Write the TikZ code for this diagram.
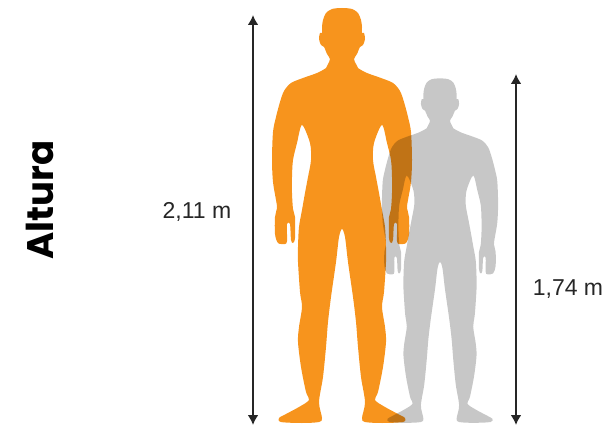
\documentclass[tikz,border=0pt]{standalone}
\usepackage{fontspec}
\setmainfont{Liberation Sans}
\newfontfamily\headfont{Poppins}
\usepackage{xcolor}
\usetikzlibrary{arrows.meta}

\definecolor{bodyorange}{RGB}{247,148,29}

% outline of a standing man, feet centre at the origin, 414 units tall
\newcommand{\silhouette}{plot[smooth cycle, tension=0.5] coordinates {
    (0,414) (-10,413) (-16,409) (-19,402) (-20,395) (-20,389) (-22,389)
    (-23,383) (-21,377) (-18,375) (-15,368) (-12,363) (-14,358) (-16,354)
    (-25,349) (-39,344) (-51,339) (-58,331) (-62,320) (-66,305) (-69,290)
    (-70,262) (-69,240) (-66,222) (-65,214) (-67,205) (-67,188) (-64,179)
    (-57,178) (-55,181) (-55,198) (-52,198) (-51,182) (-49,179) (-47,184)
    (-47,205) (-49,213) (-50,229) (-50,245) (-49,262) (-45,279) (-40,297)
    (-32,279) (-31,262) (-34,245) (-37,229) (-40,212) (-43,195) (-44,175)
    (-44,160) (-42,130) (-40,115) (-43,95) (-44,80) (-41,55) (-36,30)
    (-33,22) (-43,15) (-56,8) (-63,4) (-61,0) (-40,-1) (-23,0) (-20,4)
    (-23,20) (-19,45) (-16,75) (-14,100) (-11,125) (-6,160) (-3,185)
    (0,193)
    (3,185) (6,160) (11,125) (14,100) (16,75) (19,45) (23,20) (20,4)
    (23,0) (40,-1) (61,0) (63,4) (56,8) (43,15) (33,22) (36,30) (41,55)
    (44,80) (43,95) (40,115) (42,130) (44,160) (44,175) (43,195) (40,212)
    (37,229) (34,245) (31,262) (32,279) (40,297) (45,279) (49,262)
    (50,245) (50,229) (49,213) (47,205) (47,184) (49,179) (51,182)
    (52,198) (55,198) (55,181) (57,178) (64,179) (67,188) (67,205)
    (65,214) (66,222) (69,240) (70,262) (69,290) (66,305) (62,320)
    (58,331) (51,339) (39,344) (25,349) (16,354) (14,358) (12,363)
    (15,368) (18,375) (21,377) (23,383) (22,389) (20,389) (20,395)
    (19,402) (16,409) (10,413)
}}

\begin{document}
\begin{tikzpicture}[
    x=1pt, y=1pt,
    measure/.style={line width=2.7pt, black!85,
        {Latex[length=10pt,width=11pt]}-{Latex[length=10pt,width=11pt]}},
    tag/.style={font=\fontsize{23}{27}\selectfont, text=black!85},
    tallman/.style={fill=bodyorange},
    shortman/.style={fill=black, fill opacity=0.22}
]
\useasboundingbox (0,0) rectangle (613,429);

% the two men, feet on the same floor
\begin{scope}[shift={(342,7)}]
    \fill[tallman] \silhouette;
\end{scope}
\begin{scope}[shift={(440,7)}, scale=0.83]
    \fill[shortman] \silhouette;
\end{scope}

% height markers
\coordinate (top1) at (253,414);
\coordinate (bot1) at (253,4);
\coordinate (top2) at (516,355);
\coordinate (bot2) at (516,4);
\draw[measure] (top1) -- (bot1);
\draw[measure] (top2) -- (bot2);
\node[tag] (h1) at (197,217) {2,11 m};
\node[tag] (h2) at (568,140) {1,74 m};

\node[rotate=90, font=\headfont\bfseries\fontsize{37}{41}\selectfont] (title) at (40,229) {Altura};
\end{tikzpicture}
\end{document}
